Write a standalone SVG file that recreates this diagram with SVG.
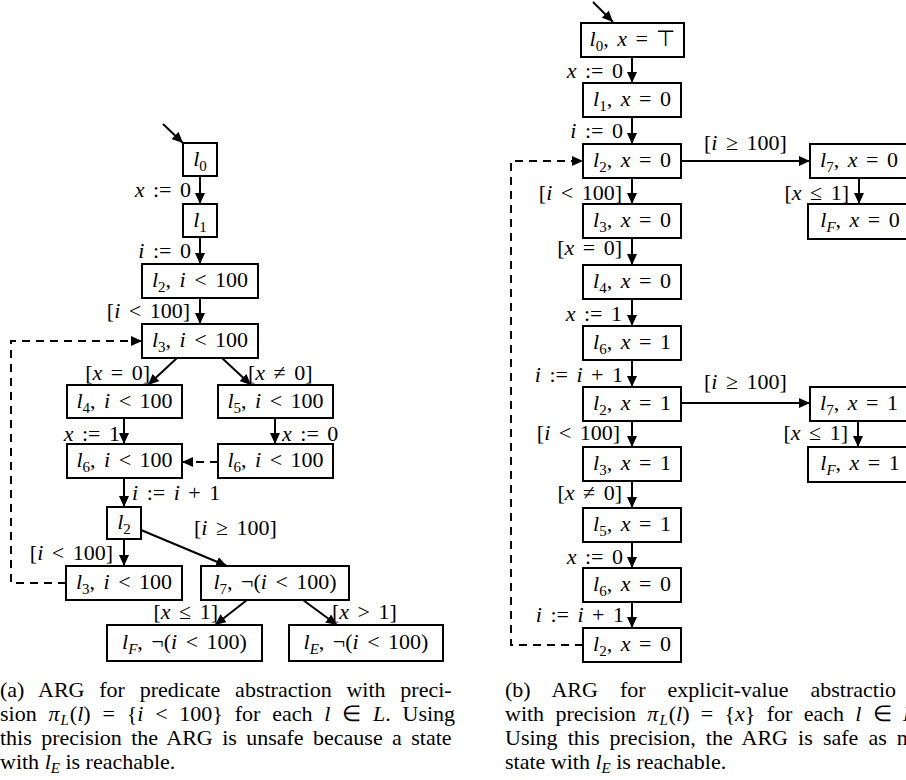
<svg xmlns="http://www.w3.org/2000/svg" width="906" height="780" viewBox="0 0 906 780">
<defs>
<style>
.t{font-family:"Liberation Serif","Times New Roman",serif;font-size:22px;fill:#000;word-spacing:3px}
.c{font-family:"Liberation Serif","Times New Roman",serif;font-size:22px;fill:#000}
.i{font-style:italic}
.sb{font-size:15px}
.m{text-anchor:middle}
.e{text-anchor:end}
.box{fill:#fff;stroke:#000;stroke-width:2}
.ed{fill:none;stroke:#000;stroke-width:2;marker-end:url(#ah)}
.dash{fill:none;stroke:#000;stroke-width:2;stroke-dasharray:8 6;marker-end:url(#ah)}
</style>
<marker id="ah" markerUnits="userSpaceOnUse" markerWidth="12" markerHeight="10" refX="11" refY="5" orient="auto">
<path d="M0,0 L11,5 L0,10 z" fill="#000"/>
</marker>
</defs>
<rect width="906" height="780" fill="#fff"/>

<g id="connectors">
<!-- left -->
<line class="ed" x1="163" y1="124" x2="183" y2="143"/>
<line class="ed" x1="200" y1="176" x2="200" y2="204"/>
<line class="ed" x1="200" y1="237" x2="200" y2="264"/>
<line class="ed" x1="200" y1="298" x2="200" y2="324"/>
<line class="ed" x1="177" y1="358" x2="148" y2="385"/>
<line class="ed" x1="222" y1="358" x2="251" y2="385"/>
<line class="ed" x1="124" y1="418" x2="124" y2="444"/>
<line class="ed" x1="275" y1="418" x2="275" y2="444"/>
<line class="dash" x1="218" y1="462" x2="182" y2="462"/>
<line class="ed" x1="124" y1="478" x2="124" y2="507"/>
<line class="ed" x1="124" y1="539" x2="124" y2="566"/>
<line class="ed" x1="141" y1="530" x2="227" y2="566"/>
<line class="ed" x1="247" y1="600" x2="215" y2="625"/>
<line class="ed" x1="303" y1="600" x2="337" y2="625"/>
<path class="dash" d="M66,583 H11 V341 H142"/>
<!-- right -->
<line class="ed" x1="593" y1="2" x2="613" y2="22"/>
<line class="ed" x1="632" y1="57" x2="632" y2="83"/>
<line class="ed" x1="632" y1="117" x2="632" y2="144"/>
<line class="ed" x1="681" y1="161" x2="810" y2="161"/>
<line class="ed" x1="859" y1="178" x2="859" y2="204"/>
<line class="ed" x1="632" y1="178" x2="632" y2="204"/>
<line class="ed" x1="632" y1="238" x2="632" y2="265"/>
<line class="ed" x1="632" y1="299" x2="632" y2="326"/>
<line class="ed" x1="632" y1="360" x2="632" y2="387"/>
<line class="ed" x1="681" y1="403" x2="810" y2="403"/>
<line class="ed" x1="858" y1="421" x2="858" y2="447"/>
<line class="ed" x1="632" y1="421" x2="632" y2="447"/>
<line class="ed" x1="632" y1="481" x2="632" y2="508"/>
<line class="ed" x1="632" y1="542" x2="632" y2="568"/>
<line class="ed" x1="632" y1="602" x2="632" y2="628"/>
<path class="dash" d="M583,645 H511 V161 H583"/>

<!-- edge labels left -->
<text class="t e" x="191" y="197"><tspan class="i">x</tspan> := 0</text>
<text class="t e" x="191" y="258"><tspan class="i">i</tspan> := 0</text>
<text class="t e" x="190" y="318">[<tspan class="i">i</tspan> &lt; 100]</text>
<text class="t e" x="150" y="380">[<tspan class="i">x</tspan> = 0]</text>
<text class="t" x="248" y="380">[<tspan class="i">x</tspan> ≠ 0]</text>
<text class="t e" x="120" y="441"><tspan class="i">x</tspan> := 1</text>
<text class="t" x="282" y="441"><tspan class="i">x</tspan> := 0</text>
<text class="t" x="132" y="500"><tspan class="i">i</tspan> := <tspan class="i">i</tspan> + 1</text>
<text class="t e" x="113" y="560">[<tspan class="i">i</tspan> &lt; 100]</text>
<text class="t" x="194" y="535">[<tspan class="i">i</tspan> ≥ 100]</text>
<text class="t e" x="218" y="619">[<tspan class="i">x</tspan> ≤ 1]</text>
<text class="t" x="332" y="619">[<tspan class="i">x</tspan> &gt; 1]</text>
<!-- edge labels right -->
<text class="t e" x="623" y="78"><tspan class="i">x</tspan> := 0</text>
<text class="t e" x="623" y="138"><tspan class="i">i</tspan> := 0</text>
<text class="t" x="704" y="150">[<tspan class="i">i</tspan> ≥ 100]</text>
<text class="t e" x="849" y="200">[<tspan class="i">x</tspan> ≤ 1]</text>
<text class="t e" x="622" y="200">[<tspan class="i">i</tspan> &lt; 100]</text>
<text class="t e" x="622" y="255">[<tspan class="i">x</tspan> = 0]</text>
<text class="t e" x="622" y="321"><tspan class="i">x</tspan> := 1</text>
<text class="t e" x="623" y="382"><tspan class="i">i</tspan> := <tspan class="i">i</tspan> + 1</text>
<text class="t" x="704" y="389">[<tspan class="i">i</tspan> ≥ 100]</text>
<text class="t e" x="848" y="440">[<tspan class="i">x</tspan> ≤ 1]</text>
<text class="t e" x="620" y="440">[<tspan class="i">i</tspan> &lt; 100]</text>
<text class="t e" x="622" y="500">[<tspan class="i">x</tspan> ≠ 0]</text>
<text class="t e" x="623" y="564"><tspan class="i">x</tspan> := 0</text>
<text class="t e" x="624" y="622"><tspan class="i">i</tspan> := <tspan class="i">i</tspan> + 1</text>
</g>

<!-- left nodes -->
<g id="a_l0"><rect class="box" x="183" y="143" width="34" height="33"/><text class="t m" x="200" y="166"><tspan class="i">l</tspan><tspan class="sb" dy="5">0</tspan></text></g>
<g id="a_l1"><rect class="box" x="183" y="204" width="34" height="33"/><text class="t m" x="200" y="227"><tspan class="i">l</tspan><tspan class="sb" dy="5">1</tspan></text></g>
<g id="a_l2a"><rect class="box" x="142" y="264" width="116" height="34"/><text class="t m" x="200" y="287"><tspan class="i">l</tspan><tspan class="sb" dy="5">2</tspan><tspan dy="-5">, </tspan><tspan class="i">i</tspan> &lt; 100</text></g>
<g id="a_l3a"><rect class="box" x="142" y="324" width="116" height="34"/><text class="t m" x="200" y="347"><tspan class="i">l</tspan><tspan class="sb" dy="5">3</tspan><tspan dy="-5">, </tspan><tspan class="i">i</tspan> &lt; 100</text></g>
<g id="a_l4"><rect class="box" x="67" y="385" width="115" height="33"/><text class="t m" x="124.5" y="408"><tspan class="i">l</tspan><tspan class="sb" dy="5">4</tspan><tspan dy="-5">, </tspan><tspan class="i">i</tspan> &lt; 100</text></g>
<g id="a_l5"><rect class="box" x="218" y="385" width="115" height="33"/><text class="t m" x="275.5" y="408"><tspan class="i">l</tspan><tspan class="sb" dy="5">5</tspan><tspan dy="-5">, </tspan><tspan class="i">i</tspan> &lt; 100</text></g>
<g id="a_l6a"><rect class="box" x="67" y="444" width="115" height="34"/><text class="t m" x="124.5" y="467"><tspan class="i">l</tspan><tspan class="sb" dy="5">6</tspan><tspan dy="-5">, </tspan><tspan class="i">i</tspan> &lt; 100</text></g>
<g id="a_l6b"><rect class="box" x="218" y="444" width="115" height="34"/><text class="t m" x="275.5" y="467"><tspan class="i">l</tspan><tspan class="sb" dy="5">6</tspan><tspan dy="-5">, </tspan><tspan class="i">i</tspan> &lt; 100</text></g>
<g id="a_l2b"><rect class="box" x="107" y="507" width="34" height="32"/><text class="t m" x="124" y="529"><tspan class="i">l</tspan><tspan class="sb" dy="5">2</tspan></text></g>
<g id="a_l3b"><rect class="box" x="66" y="566" width="116" height="34"/><text class="t m" x="124" y="589"><tspan class="i">l</tspan><tspan class="sb" dy="5">3</tspan><tspan dy="-5">, </tspan><tspan class="i">i</tspan> &lt; 100</text></g>
<g id="a_l7"><rect class="box" x="201" y="566" width="148" height="34"/><text class="t m" x="275" y="589"><tspan class="i">l</tspan><tspan class="sb" dy="5">7</tspan><tspan dy="-5">, ¬(</tspan><tspan class="i">i</tspan> &lt; 100)</text></g>
<g id="a_lF"><rect class="box" x="107" y="625" width="155" height="36"/><text class="t m" x="184.5" y="649"><tspan class="i">l</tspan><tspan class="sb i" dy="5">F</tspan><tspan dy="-5">, ¬(</tspan><tspan class="i">i</tspan> &lt; 100)</text></g>
<g id="a_lE"><rect class="box" x="289" y="625" width="154" height="36"/><text class="t m" x="366" y="649"><tspan class="i">l</tspan><tspan class="sb i" dy="5">E</tspan><tspan dy="-5">, ¬(</tspan><tspan class="i">i</tspan> &lt; 100)</text></g>

<!-- right nodes -->
<g id="b_l0"><rect class="box" x="581" y="23" width="103" height="34"/><text class="t m" x="632.5" y="46"><tspan class="i">l</tspan><tspan class="sb" dy="5">0</tspan><tspan dy="-5">, </tspan><tspan class="i">x</tspan> = ⊤</text></g>
<g id="b_l1"><rect class="box" x="583" y="83" width="98" height="34"/><text class="t m" x="632" y="106"><tspan class="i">l</tspan><tspan class="sb" dy="5">1</tspan><tspan dy="-5">, </tspan><tspan class="i">x</tspan> = 0</text></g>
<g id="b_l2a"><rect class="box" x="583" y="144" width="98" height="34"/><text class="t m" x="632" y="167"><tspan class="i">l</tspan><tspan class="sb" dy="5">2</tspan><tspan dy="-5">, </tspan><tspan class="i">x</tspan> = 0</text></g>
<g id="b_l7a"><rect class="box" x="810" y="144" width="98" height="34"/><text class="t m" x="859" y="167"><tspan class="i">l</tspan><tspan class="sb" dy="5">7</tspan><tspan dy="-5">, </tspan><tspan class="i">x</tspan> = 0</text></g>
<g id="b_lFa"><rect class="box" x="808" y="204" width="102" height="35"/><text class="t m" x="860" y="227"><tspan class="i">l</tspan><tspan class="sb i" dy="5">F</tspan><tspan dy="-5">, </tspan><tspan class="i">x</tspan> = 0</text></g>
<g id="b_l3a"><rect class="box" x="583" y="204" width="98" height="34"/><text class="t m" x="632" y="227"><tspan class="i">l</tspan><tspan class="sb" dy="5">3</tspan><tspan dy="-5">, </tspan><tspan class="i">x</tspan> = 0</text></g>
<g id="b_l4"><rect class="box" x="583" y="265" width="98" height="34"/><text class="t m" x="632" y="288"><tspan class="i">l</tspan><tspan class="sb" dy="5">4</tspan><tspan dy="-5">, </tspan><tspan class="i">x</tspan> = 0</text></g>
<g id="b_l6a"><rect class="box" x="583" y="326" width="98" height="34"/><text class="t m" x="632" y="349"><tspan class="i">l</tspan><tspan class="sb" dy="5">6</tspan><tspan dy="-5">, </tspan><tspan class="i">x</tspan> = 1</text></g>
<g id="b_l2b"><rect class="box" x="583" y="387" width="98" height="34"/><text class="t m" x="632" y="410"><tspan class="i">l</tspan><tspan class="sb" dy="5">2</tspan><tspan dy="-5">, </tspan><tspan class="i">x</tspan> = 1</text></g>
<g id="b_l7b"><rect class="box" x="810" y="387" width="98" height="34"/><text class="t m" x="859" y="410"><tspan class="i">l</tspan><tspan class="sb" dy="5">7</tspan><tspan dy="-5">, </tspan><tspan class="i">x</tspan> = 1</text></g>
<g id="b_lFb"><rect class="box" x="808" y="447" width="102" height="35"/><text class="t m" x="860" y="470"><tspan class="i">l</tspan><tspan class="sb i" dy="5">F</tspan><tspan dy="-5">, </tspan><tspan class="i">x</tspan> = 1</text></g>
<g id="b_l3b"><rect class="box" x="583" y="447" width="98" height="34"/><text class="t m" x="632" y="470"><tspan class="i">l</tspan><tspan class="sb" dy="5">3</tspan><tspan dy="-5">, </tspan><tspan class="i">x</tspan> = 1</text></g>
<g id="b_l5"><rect class="box" x="583" y="508" width="98" height="34"/><text class="t m" x="632" y="531"><tspan class="i">l</tspan><tspan class="sb" dy="5">5</tspan><tspan dy="-5">, </tspan><tspan class="i">x</tspan> = 1</text></g>
<g id="b_l6b"><rect class="box" x="583" y="568" width="98" height="34"/><text class="t m" x="632" y="591"><tspan class="i">l</tspan><tspan class="sb" dy="5">6</tspan><tspan dy="-5">, </tspan><tspan class="i">x</tspan> = 0</text></g>
<g id="b_l2c"><rect class="box" x="583" y="628" width="98" height="34"/><text class="t m" x="632" y="651"><tspan class="i">l</tspan><tspan class="sb" dy="5">2</tspan><tspan dy="-5">, </tspan><tspan class="i">x</tspan> = 0</text></g>

<!-- captions -->
<g id="caption_a">
<text class="c" x="0" y="697" word-spacing="9.3">(a) ARG for predicate abstraction with preci-</text>
<text class="c" x="0" y="721" word-spacing="6.3">sion <tspan class="i">π</tspan><tspan class="sb i" dx="1" dy="4">L</tspan><tspan dx="1" dy="-4">(</tspan><tspan class="i">l</tspan>) = {<tspan class="i">i</tspan> &lt; 100} for each <tspan class="i">l</tspan> ∈ <tspan class="i">L</tspan>. Using</text>
<text class="c" x="0" y="745" word-spacing="3.9">this precision the ARG is unsafe because a state</text>
<text class="c" x="0" y="769">with <tspan class="i">l</tspan><tspan class="sb i" dy="4">E</tspan><tspan dy="-4"> is reachable.</tspan></text>
</g>
<g id="caption_b">
<text class="c" x="505" y="697" word-spacing="16.5">(b) ARG for explicit-value abstractio</text>
<text class="c" x="505" y="721" word-spacing="5.8">with precision <tspan class="i">π</tspan><tspan class="sb i" dx="1" dy="4">L</tspan><tspan dx="1" dy="-4">(</tspan><tspan class="i">l</tspan>) = {<tspan class="i">x</tspan>} for each <tspan class="i">l</tspan> ∈ <tspan class="i">L</tspan></text>
<text class="c" x="505" y="745" word-spacing="4.6">Using this precision, the ARG is safe as n</text>
<text class="c" x="505" y="769">state with <tspan class="i">l</tspan><tspan class="sb i" dy="4">E</tspan><tspan dy="-4"> is reachable.</tspan></text>
</g>
</svg>
